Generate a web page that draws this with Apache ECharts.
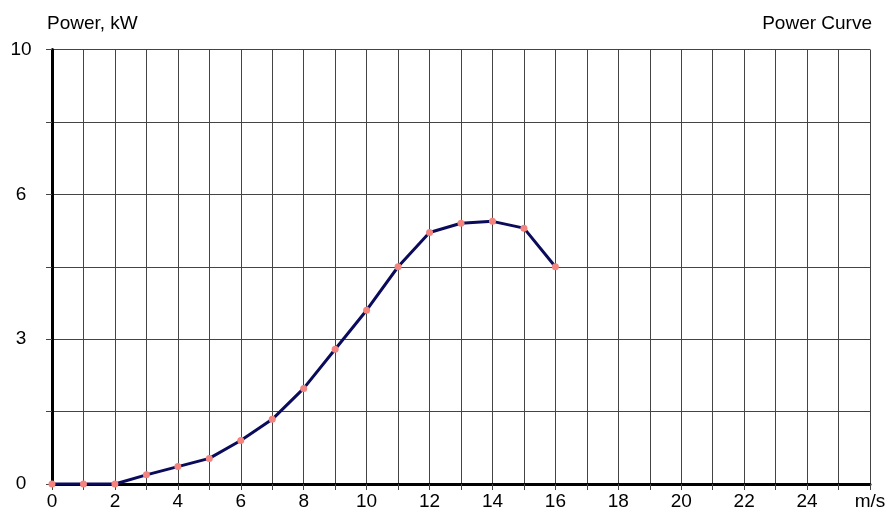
<!DOCTYPE html>
<html>
<head>
<meta charset="utf-8">
<script src="https://cdn.jsdelivr.net/npm/echarts@6/dist/echarts.min.js"></script>
<style>
  html, body { margin: 0; padding: 0; background: #fff; }
  #chart { width: 892px; height: 516px; }
</style>
</head>
<body>
<div id="chart"></div>
<script>
// wind speed, m/s
var speeds = [0, 1, 2, 3, 4, 5, 6, 7, 8, 9, 10, 11, 12, 13, 14, 15, 16];
// power
var power = [0, 0, 0, 0.19, 0.36, 0.53, 0.9, 1.34, 1.98, 2.79, 3.6, 4.5, 5.21, 5.4, 5.44, 5.3, 4.5];

// y tick positions and what the original prints there (top line is labelled 10)
var yTickValues = [0, 3, 6, 9];
var yTickLabels = ['0', '3', '6', '10'];
// x labels: every second speed, last gridline carries the unit
var xUnitLabel = 'm/s';
var xMax = 26;

var font = 'Liberation Sans, Arial, sans-serif';

var myChart = echarts.init(document.getElementById('chart'));

var option = {
    animation: false,
    title: [{
        text: 'Power, kW',
        left: 42,
        top: 9,
        textStyle: { fontFamily: font, fontSize: 19, fontWeight: 'normal', color: '#000' }
    }, {
        text: 'Power Curve',
        right: 15,
        top: 9,
        textStyle: { fontFamily: font, fontSize: 19, fontWeight: 'normal', color: '#000' }
    }],
    grid: {
        left: 52,
        right: 22,
        top: 49.5,
        bottom: 32
    },
    xAxis: {
        type: 'value',
        min: 0,
        max: xMax,
        interval: 1,
        axisLine: { show: true, lineStyle: { color: '#000', width: 3 } },
        axisTick: { show: true, length: 6, lineStyle: { color: '#444' } },
        splitLine: { show: true, lineStyle: { color: '#444', width: 1 } },
        axisLabel: {
            margin: 8,
            fontFamily: font,
            fontSize: 19,
            color: '#000',
            showMaxLabel: true,
            formatter: function (v) {
                if (v === xMax) return xUnitLabel;
                return v % 2 === 0 ? String(v) : '';
            }
        }
    },
    yAxis: {
        type: 'value',
        min: 0,
        max: 9,
        interval: 1.5,
        axisLine: { show: true, lineStyle: { color: '#000', width: 3 } },
        axisTick: { show: true, length: 6, lineStyle: { color: '#444' } },
        splitLine: { show: true, lineStyle: { color: '#444', width: 1 } },
        axisLabel: {
            margin: 31,
            align: 'center',
            fontFamily: font,
            fontSize: 19,
            color: '#000',
            formatter: function (v) {
                var i = yTickValues.indexOf(v);
                return i >= 0 ? yTickLabels[i] : '';
            }
        }
    },
    series: [{
        type: 'line',
        data: speeds.map(function (s, i) { return [s, power[i]]; }),
        symbol: 'circle',
        symbolSize: 7,
        lineStyle: { color: '#0b0b5c', width: 3 },
        itemStyle: { color: '#f4847e' },
        z: 3
    }]
};

myChart.setOption(option);
</script>
</body>
</html>
